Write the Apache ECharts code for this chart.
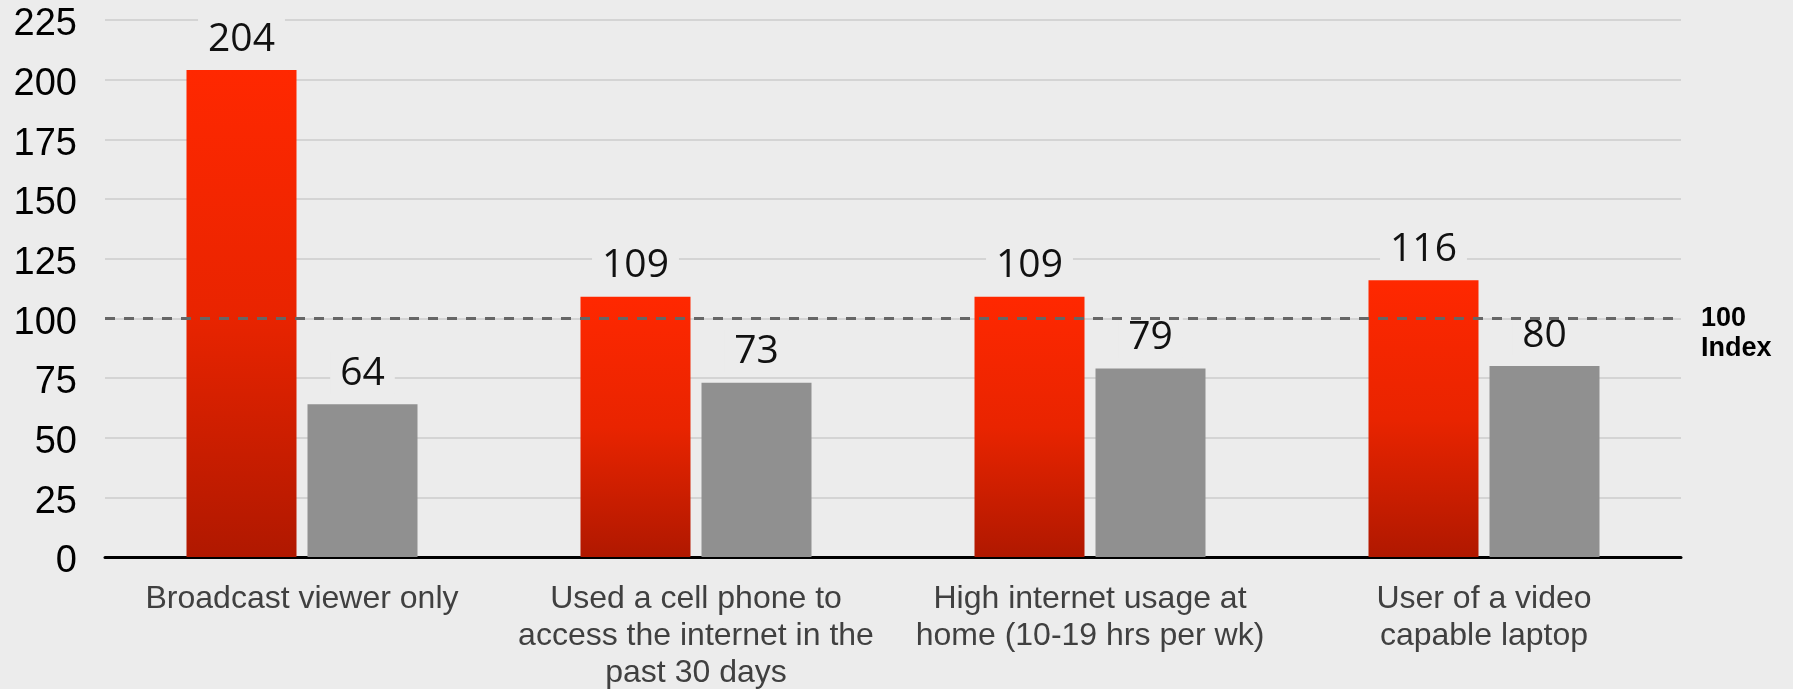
<!DOCTYPE html>
<html>
<head>
<meta charset="utf-8">
<script src="https://cdn.jsdelivr.net/npm/echarts@6/dist/echarts.min.js"></script>
<style>
  html, body { margin: 0; padding: 0; background: #ececec; }
  #chart { width: 1793px; height: 689px; }
</style>
</head>
<body>
<div id="chart"></div>
<script>
// Category labels (line breaks as they wrap under each group)
const categories = [
  'Broadcast viewer only',
  'Used a cell phone to\naccess the internet in the\npast 30 days',
  'High internet usage at\nhome (10-19 hrs per wk)',
  'User of a video\ncapable laptop'
];
// Index values per group
const redValues = [204, 109, 109, 116];
const grayValues = [64, 73, 79, 80];
// Value axis ticks
const axisMin = 0;
const axisMax = 225;
const axisStep = 25;
// Reference index line
const indexValue = 100;
const indexLabel = '100\nIndex';

const chart = echarts.init(document.getElementById('chart'), null, { renderer: 'canvas' });

const valueLabel = {
  show: true,
  position: 'top',
  distance: 11,
  fontFamily: 'Open Sans',
  fontSize: 39,
  color: '#111',
  backgroundColor: '#ececec',
  padding: [2, 10, 0, 10]
};

chart.setOption({
  backgroundColor: '#ececec',
  animation: false,
  grid: {
    left: 105, right: 112, top: 20, bottom: 132,
    containLabel: false,
    outerBoundsMode: 'none'
  },
  xAxis: {
    type: 'category',
    data: categories,
    axisLine: { show: true, lineStyle: { color: '#000', width: 3 } },
    axisTick: { show: false },
    axisLabel: {
      margin: 24,
      fontFamily: 'Liberation Sans',
      fontSize: 32,
      lineHeight: 37,
      color: '#404040',
      interval: 0
    }
  },
  yAxis: {
    type: 'value',
    min: axisMin,
    max: axisMax,
    interval: axisStep,
    axisLine: { show: false },
    axisTick: { show: false },
    axisLabel: {
      margin: 28,
      fontFamily: 'Liberation Sans',
      fontSize: 38,
      color: '#000',
      // tick numbers sit slightly below their grid lines
      verticalAlign: 'top',
      lineHeight: 10
    },
    splitLine: { lineStyle: { color: '#d4d4d4', width: 2 } }
  },
  series: [
    {
      type: 'bar',
      data: redValues,
      barWidth: 110,
      barGap: '10%',
      itemStyle: {
        color: new echarts.graphic.LinearGradient(0, 0, 0, 1, [
          { offset: 0, color: '#ff2800' },
          { offset: 0.5, color: '#e92400' },
          { offset: 1, color: '#b01800' }
        ])
      },
      label: valueLabel,
      z: 2
    },
    {
      type: 'bar',
      data: grayValues,
      barWidth: 110,
      itemStyle: { color: '#909090' },
      label: valueLabel,
      z: 2,
      markLine: {
        silent: true,
        symbol: 'none',
        z: 10,
        lineStyle: { color: '#666', width: 3, type: [10, 9], opacity: 1 },
        label: {
          show: true,
          position: 'end',
          distance: 20,
          // blank first line keeps "100" centred on the line with "Index" beneath
          formatter: ' \n' + indexLabel,
          fontFamily: 'Liberation Sans',
          fontWeight: 'bold',
          fontSize: 27,
          lineHeight: 30,
          color: '#000',
          align: 'left'
        },
        data: [{ yAxis: indexValue }]
      }
    }
  ]
});
</script>
</body>
</html>
